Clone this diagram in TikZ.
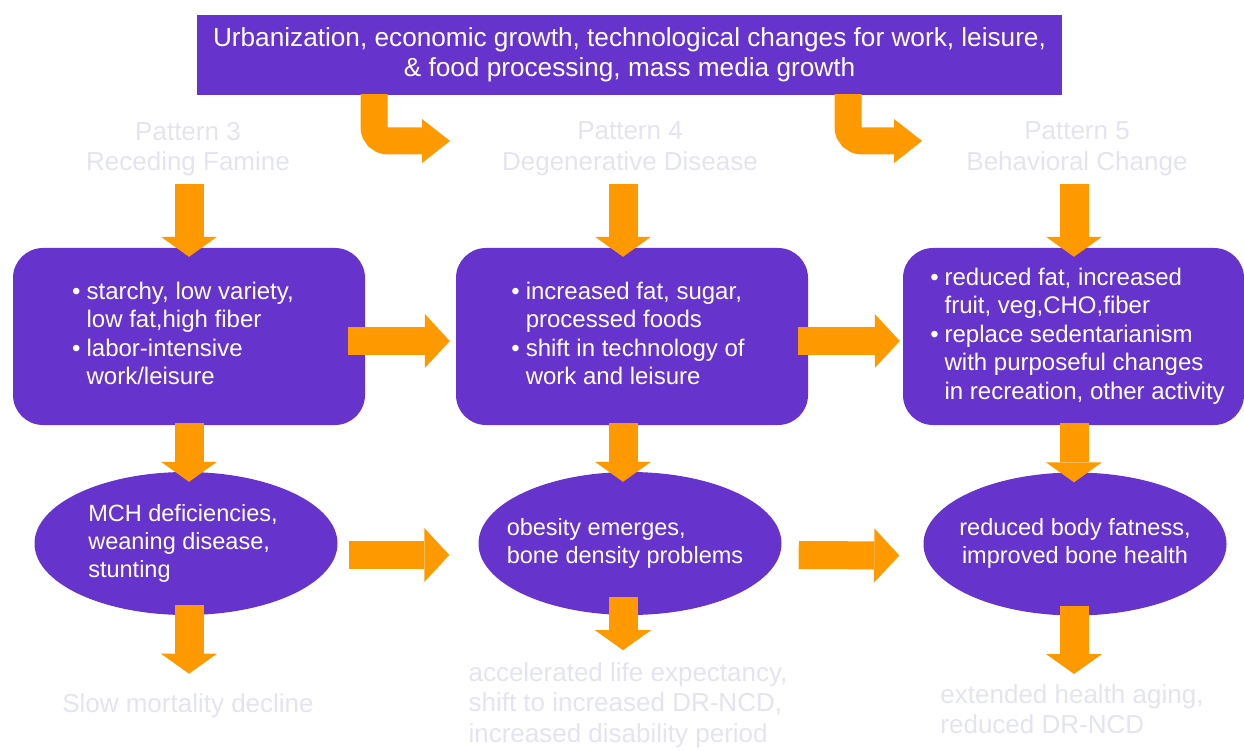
\documentclass[tikz,border=0pt]{standalone}
\usepackage{fontspec}
\setmainfont{Liberation Sans}
\usetikzlibrary{arrows.meta,shapes.geometric}
\definecolor{plum}{HTML}{6633CC}
\definecolor{amber}{HTML}{FF9900}
\definecolor{ghost}{HTML}{E4E4EE}

\tikzset{
  banner/.style={fill=plum, text=white, minimum width=865pt, minimum height=80pt,
    inner sep=0pt, align=center, font=\fontsize{26.2}{30}\selectfont},
  panel/.style={fill=plum, text=white, rounded corners=30pt, minimum width=352pt,
    minimum height=177pt, inner sep=0pt, font=\fontsize{24}{28.5}\selectfont},
  oval/.style={ellipse, fill=plum, text=white, minimum width=303pt, minimum height=143pt,
    inner sep=0pt, font=\fontsize{23.5}{28}\selectfont},
  faint/.style={text=ghost, inner sep=0pt, font=\fontsize{26}{30.5}\selectfont},
  downflow/.style={draw=amber, line width=29pt,
    -{Triangle[length=20pt,width=56pt,line width=0pt]}},
  sideflow/.style={draw=amber, line width=28pt,
    -{Triangle[length=25pt,width=54pt,line width=0pt]}},
  bendflow/.style={draw=amber, line width=27pt, rounded corners=14pt,
    -{Triangle[length=28pt,width=44pt,line width=0pt]}},
}

\newcommand{\bulletlist}[1]{\begin{tabular}{@{}l@{\hspace{6pt}}l@{}}#1\end{tabular}}
% fixed-width box so the ellipse keeps its own size
\newcommand{\ovaltext}[2]{\makebox[170pt]{\begin{tabular}{@{}#1@{}}#2\end{tabular}}}

\begin{document}
\begin{tikzpicture}[x=1pt,y=-1pt]
\useasboundingbox (0,0) rectangle (1244,751);

% driving forces
\node[banner] (top) at (629.5,55)
  {Urbanization, economic growth, technological changes for work, leisure,\\
   \& food processing, mass media growth};

% pattern titles
\node[faint, align=center] (p3) at (188,149) {Pattern 3\\Receding Famine};
\node[faint, align=center] (p4) at (630,149) {Pattern 4\\Degenerative Disease};
\node[faint, align=center] (p5) at (1077,149) {Pattern 5\\Behavioral Change};

% diet and activity panels
\node[panel] (b1) at (189,336.5) {\hspace{-12pt}\bulletlist{%
  \textbullet & starchy, low variety,\\
              & low fat,high fiber\\
  \textbullet & labor-intensive\\
              & work/leisure}};
\node[panel] (b2) at (632,336.5) {\hspace{-8pt}\bulletlist{%
  \textbullet & increased fat, sugar,\\
              & processed foods\\
  \textbullet & shift in technology of\\
              & work and leisure}};
\node[panel, minimum width=341pt] (b3) at (1073.5,336.5) {\hspace{8pt}\bulletlist{%
  \textbullet & reduced fat, increased\\
              & fruit, veg,CHO,fiber\\
  \textbullet & replace sedentarianism\\
              & with purposeful changes\\
              & in recreation, other activity}};

% health outcomes
\node[oval] (e1) at (186,543.5)
  {\hspace{-6pt}\ovaltext{l}{MCH deficiencies,\\weaning disease,\\stunting}};
\node[oval] (e2) at (630,543.5)
  {\hspace{-10pt}\ovaltext{l}{obesity emerges,\\bone density problems}};
\node[oval] (e3) at (1075,544)
  {\ovaltext{c}{reduced body fatness,\\improved bone health}};

% demographic consequences
\node[faint] (t1) at (188,706) {Slow mortality decline};
\node[faint, align=left] (t2) at (628,705)
  {accelerated life expectancy,\\shift to increased DR-NCD,\\increased disability period};
\node[faint, align=left] (t3) at (1072,709)
  {extended health aging,\\reduced DR-NCD};

% column axes for the vertical arrows
\coordinate (lx) at (189,0);
\coordinate (mx) at (623,0);
\coordinate (rx) at (1074,0);

% bent arrows leaving the banner
\coordinate (k1) at (374,0);
\coordinate (h1) at (450,141);
\coordinate (k2) at (848,0);
\coordinate (h2) at (922,141);
\draw[bendflow] ([yshift=1pt]k1 |- top.south) |- (h1);
\draw[bendflow] ([yshift=1pt]k2 |- top.south) |- (h2);

% title -> panel
\draw[downflow] ([yshift=-8pt]lx |- p3.south) -- ([yshift=-9pt]lx |- b1.north);
\draw[downflow] ([yshift=-8pt]mx |- p4.south) -- ([yshift=-9pt]mx |- b2.north);
\draw[downflow] ([yshift=-8pt]rx |- p5.south) -- ([yshift=-9pt]rx |- b3.north);

% panel -> outcome
\draw[downflow] ([yshift=2pt]lx |- b1.south) -- ([yshift=-10pt]lx |- e1.north);
\draw[downflow] ([yshift=2pt]mx |- b2.south) -- ([yshift=-10pt]mx |- e2.north);
\draw[downflow] ([yshift=2pt]rx |- b3.south) -- ([yshift=-10pt]rx |- e3.north);

% outcome -> consequence
\draw[downflow] ([yshift=10pt]lx |- e1.south) -- ([yshift=20pt]lx |- t1.north);
\draw[downflow] ([yshift=18pt]mx |- e2.south) -- ([yshift=12pt]mx |- t2.north);
\draw[downflow] ([yshift=10pt]rx |- e3.south) -- ([yshift=10pt]rx |- t3.north);

% transitions between patterns
\draw[sideflow] ([xshift=-17pt,yshift=-4.5pt]b1.east) -- ([xshift=-6pt,yshift=-4.5pt]b2.west);
\draw[sideflow] ([xshift=-10pt,yshift=-4.5pt]b2.east) -- ([xshift=-3pt,yshift=-4.5pt]b3.west);
\draw[sideflow] ([xshift=11pt,yshift=-11.5pt]e1.east) -- ([xshift=-29pt,yshift=-11.5pt]e2.west);
\draw[sideflow] ([xshift=17pt,yshift=-11.5pt]e2.east) -- ([xshift=-24pt,yshift=-11.5pt]e3.west);
\end{tikzpicture}
\end{document}
